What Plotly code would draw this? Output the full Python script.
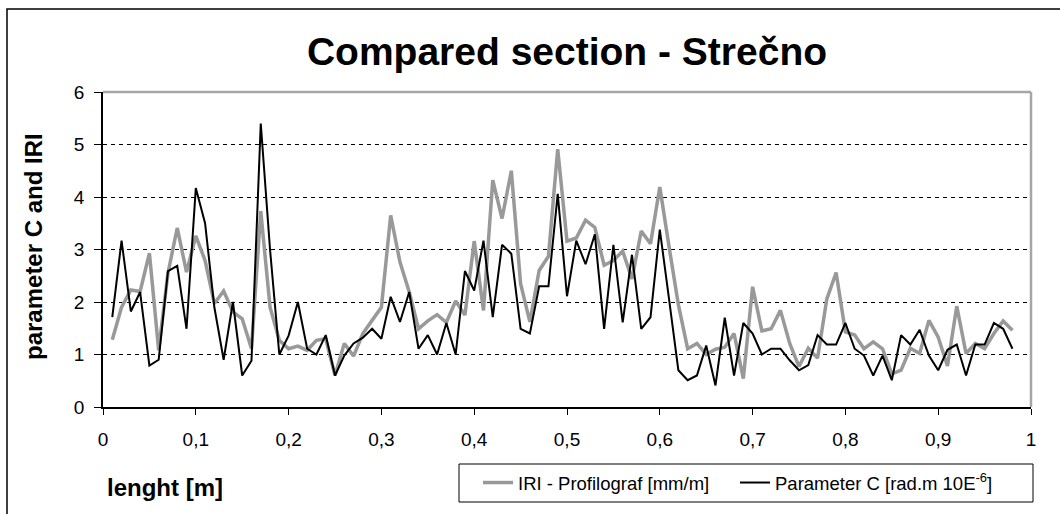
import plotly.graph_objects as go

LENGTH = [0.01, 0.02, 0.03, 0.04, 0.05, 0.06, 0.07, 0.08, 0.09, 0.10,
          0.11, 0.12, 0.13, 0.14, 0.15, 0.16, 0.17, 0.18, 0.19, 0.20,
          0.21, 0.22, 0.23, 0.24, 0.25, 0.26, 0.27, 0.28, 0.29, 0.30,
          0.31, 0.32, 0.33, 0.34, 0.35, 0.36, 0.37, 0.38, 0.39, 0.40,
          0.41, 0.42, 0.43, 0.44, 0.45, 0.46, 0.47, 0.48, 0.49, 0.50,
          0.51, 0.52, 0.53, 0.54, 0.55, 0.56, 0.57, 0.58, 0.59, 0.60,
          0.61, 0.62, 0.63, 0.64, 0.65, 0.66, 0.67, 0.68, 0.69, 0.70,
          0.71, 0.72, 0.73, 0.74, 0.75, 0.76, 0.77, 0.78, 0.79, 0.80,
          0.81, 0.82, 0.83, 0.84, 0.85, 0.86, 0.87, 0.88, 0.89, 0.90,
          0.91, 0.92, 0.93, 0.94, 0.95, 0.96, 0.97, 0.98]

IRI = [1.28, 1.90, 2.23, 2.20, 2.93, 1.08, 2.55, 3.41, 2.57, 3.26,
       2.79, 1.97, 2.21, 1.81, 1.68, 1.11, 3.73, 1.90, 1.27, 1.11,
       1.16, 1.08, 1.27, 1.30, 0.60, 1.21, 0.97, 1.40, 1.65, 1.90,
       3.65, 2.76, 2.19, 1.49, 1.64, 1.76, 1.61, 2.02, 1.75, 3.16,
       1.84, 4.32, 3.59, 4.50, 2.35, 1.62, 2.60, 2.87, 4.91, 3.16,
       3.22, 3.56, 3.42, 2.70, 2.79, 2.97, 2.44, 3.35, 3.11, 4.19,
       3.05, 1.95, 1.11, 1.21, 1.00, 1.10, 1.14, 1.40, 0.54, 2.29,
       1.45, 1.49, 1.84, 1.21, 0.77, 1.12, 0.93, 2.06, 2.56, 1.43,
       1.37, 1.11, 1.24, 1.11, 0.63, 0.70, 1.12, 1.02, 1.65, 1.33,
       0.78, 1.92, 1.02, 1.21, 1.11, 1.40, 1.64, 1.46]

PARAM_C = [1.71, 3.17, 1.82, 2.19, 0.79, 0.90, 2.59, 2.69, 1.49, 4.17,
           3.50, 1.90, 0.90, 2.00, 0.60, 0.88, 5.40, 3.00, 1.00, 1.36,
           2.00, 1.11, 1.00, 1.37, 0.60, 0.98, 1.21, 1.32, 1.49, 1.30,
           2.10, 1.62, 2.19, 1.11, 1.37, 1.00, 1.60, 1.00, 2.59, 2.22,
           3.17, 1.71, 3.09, 2.92, 1.49, 1.40, 2.30, 2.30, 4.06, 2.11,
           3.17, 2.72, 3.29, 1.49, 3.09, 1.61, 2.90, 1.49, 1.71, 3.38,
           2.05, 0.70, 0.51, 0.60, 1.17, 0.41, 1.70, 0.60, 1.60, 1.40,
           1.00, 1.11, 1.11, 0.89, 0.70, 0.80, 1.37, 1.19, 1.19, 1.60,
           1.11, 0.98, 0.60, 0.98, 0.51, 1.37, 1.19, 1.47, 0.98, 0.70,
           1.09, 1.19, 0.60, 1.19, 1.19, 1.60, 1.49, 1.11]

X_TICKS = [0, 0.1, 0.2, 0.3, 0.4, 0.5, 0.6, 0.7, 0.8, 0.9, 1]
X_TICK_TEXT = ["0", "0,1", "0,2", "0,3", "0,4", "0,5", "0,6", "0,7", "0,8", "0,9", "1"]
Y_TICKS = [0, 1, 2, 3, 4, 5, 6]

TITLE = "Compared section - Strečno"
X_TITLE = "lenght [m]"
Y_TITLE = "parameter C and IRI"
NAME_IRI = "IRI - Profilograf [mm/m]"
NAME_C = "Parameter C [rad.m 10E<sup>-6</sup>]"

FONT = "Liberation Sans, Arial, Helvetica, sans-serif"

fig = go.Figure()
fig.add_trace(go.Scatter(x=LENGTH, y=IRI, mode="lines", name=NAME_IRI,
                         line=dict(color="#999999", width=3.5)))
fig.add_trace(go.Scatter(x=LENGTH, y=PARAM_C, mode="lines", name=NAME_C,
                         line=dict(color="#000000", width=2)))

W, H = 1060, 514
L, R, T, B = 103, 29, 92, 107
pw, ph = W - L - R, H - T - B


def px(xp):
    return (xp - L) / pw


def py(yp):
    return (H - B - yp) / ph


fig.update_layout(
    width=W, height=H,
    margin=dict(l=L, r=R, t=T, b=B, autoexpand=False),
    paper_bgcolor="white", plot_bgcolor="white",
    font=dict(family=FONT, color="black", size=18),
    title=dict(text="<b>" + TITLE + "</b>", x=0.5, xref="paper", xanchor="center",
               y=1 - 51 / H, yref="container", yanchor="middle",
               font=dict(size=39, family=FONT, color="black")),
    showlegend=True,
    legend=dict(orientation="h", x=px(478), y=py(483), xanchor="left", yanchor="middle",
                borderwidth=0, bgcolor="rgba(0,0,0,0)",
                font=dict(size=18.5, family=FONT), itemwidth=30,
                entrywidth=212, entrywidthmode="pixels"),
    xaxis=dict(range=[0, 1], tickvals=X_TICKS, ticktext=X_TICK_TEXT,
               showgrid=False, zeroline=False, showline=True, linecolor="black",
               linewidth=1.5, ticks="outside", ticklen=6, tickcolor="black",
               tickwidth=1, tickfont=dict(size=19, family=FONT),
               ticklabelstandoff=8),
    yaxis=dict(range=[0, 6], tickvals=Y_TICKS, showgrid=True, gridcolor="black",
               gridwidth=1, griddash="4px,4px", zeroline=False, showline=True,
               linecolor="black", linewidth=1.5, ticks="outside", ticklen=7,
               tickcolor="black", tickwidth=1, tickfont=dict(size=19, family=FONT),
               ticklabelstandoff=6),
)

# plot-area border (top and right, gray)
fig.add_shape(type="line", xref="paper", yref="paper", x0=0, x1=1, y0=1, y1=1,
              line=dict(color="#a6a6a6", width=2.5), layer="above")
fig.add_shape(type="line", xref="paper", yref="paper", x0=1, x1=1, y0=0, y1=1,
              line=dict(color="#a6a6a6", width=2.5), layer="above")
# outer chart frame
fig.add_shape(type="rect", xref="paper", yref="paper",
              x0=px(7), x1=px(1070), y0=py(530), y1=py(9),
              line=dict(color="black", width=1.5), fillcolor="rgba(0,0,0,0)",
              layer="below")
# legend frame
fig.add_shape(type="rect", xref="paper", yref="paper",
              x0=px(459), x1=px(1033), y0=py(502), y1=py(464),
              line=dict(color="black", width=1), fillcolor="rgba(0,0,0,0)",
              layer="below")

fig.add_annotation(text="<b>" + X_TITLE + "</b>", xref="paper", yref="paper",
                   x=px(105), y=py(487), xanchor="left", yanchor="middle",
                   showarrow=False, font=dict(size=24, family=FONT))
fig.add_annotation(text="<b>" + Y_TITLE + "</b>", xref="paper", yref="paper",
                   x=px(33), y=py(247), xanchor="center", yanchor="middle",
                   textangle=-90, showarrow=False, font=dict(size=24, family=FONT))

fig.write_html("out.html", config={"displayModeBar": False},
               post_script="document.body.style.margin='0';document.body.style.padding='0';")
